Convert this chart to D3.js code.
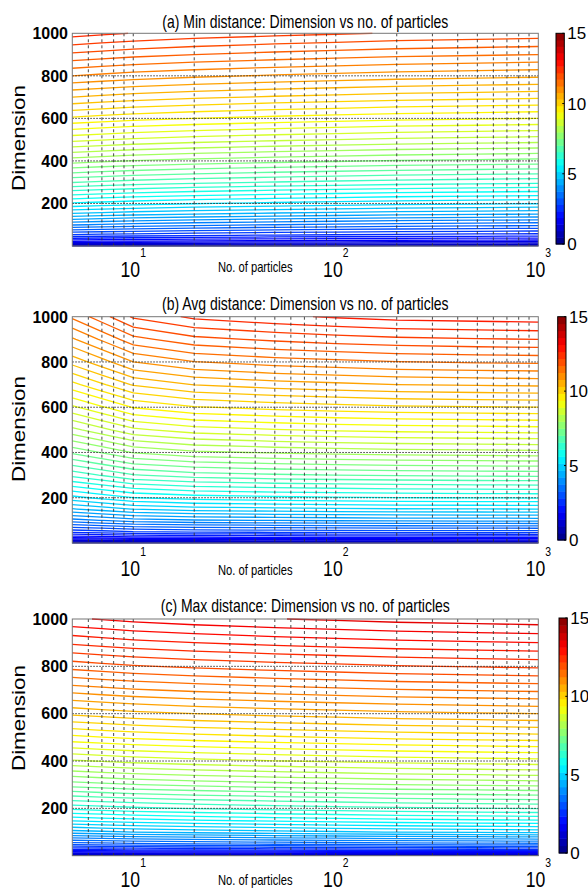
<!DOCTYPE html>
<html>
<head>
<meta charset="utf-8">
<script src="https://cdn.jsdelivr.net/npm/d3@7"></script>
<style>
  body { margin: 0; background: #fff; }
  text { font-family: "Liberation Sans", Arial, sans-serif; fill: #000; }
</style>
</head>
<body>
<svg width="588" height="890"></svg>
<script>
const svg = d3.select("svg");

// grid the distances were read on
const particles = [5, 7, 10, 20, 50, 100, 200, 500, 1000];
const dims = [1, 2, 10, 25, 50, 100, 150, 200, 300, 400, 500, 600, 700, 800, 900, 1000];

// rows follow dims, columns follow particles
const minDist = [
    [0.20, 0.19, 0.18, 0.17, 0.16, 0.15, 0.14, 0.13, 0.12],
    [0.53, 0.53, 0.52, 0.50, 0.49, 0.49, 0.48, 0.47, 0.47],
    [1.19, 1.17, 1.16, 1.13, 1.10, 1.09, 1.07, 1.06, 1.05],
    [1.89, 1.86, 1.83, 1.78, 1.74, 1.72, 1.69, 1.67, 1.66],
    [2.67, 2.63, 2.59, 2.53, 2.47, 2.44, 2.40, 2.37, 2.35],
    [3.78, 3.72, 3.66, 3.58, 3.50, 3.45, 3.40, 3.36, 3.33],
    [4.70, 4.64, 4.58, 4.50, 4.42, 4.37, 4.32, 4.28, 4.25],
    [5.47, 5.41, 5.35, 5.27, 5.19, 5.14, 5.09, 5.05, 5.02],
    [6.77, 6.71, 6.65, 6.57, 6.49, 6.44, 6.39, 6.35, 6.32],
    [7.86, 7.80, 7.74, 7.66, 7.58, 7.53, 7.48, 7.44, 7.41],
    [8.83, 8.77, 8.71, 8.63, 8.55, 8.50, 8.45, 8.41, 8.38],
    [9.70, 9.64, 9.58, 9.50, 9.42, 9.37, 9.32, 9.28, 9.25],
    [10.50, 10.44, 10.38, 10.30, 10.22, 10.17, 10.12, 10.08, 10.05],
    [11.25, 11.19, 11.13, 11.05, 10.97, 10.92, 10.87, 10.83, 10.80],
    [11.95, 11.89, 11.83, 11.75, 11.67, 11.62, 11.57, 11.53, 11.50],
    [12.61, 12.55, 12.49, 12.41, 12.33, 12.28, 12.23, 12.19, 12.16]
];

const avgDist = [
    [0.20, 0.21, 0.22, 0.23, 0.23, 0.24, 0.24, 0.24, 0.24],
    [0.52, 0.53, 0.55, 0.56, 0.57, 0.57, 0.58, 0.58, 0.58],
    [1.15, 1.19, 1.23, 1.26, 1.27, 1.28, 1.28, 1.29, 1.29],
    [1.83, 1.88, 1.94, 1.98, 2.01, 2.02, 2.03, 2.04, 2.04],
    [2.59, 2.66, 2.75, 2.81, 2.84, 2.86, 2.88, 2.88, 2.89],
    [3.65, 3.76, 3.88, 3.97, 4.01, 4.04, 4.06, 4.07, 4.08],
    [4.48, 4.61, 4.76, 4.87, 4.92, 4.95, 4.98, 4.99, 5.00],
    [5.16, 5.32, 5.49, 5.61, 5.68, 5.71, 5.74, 5.76, 5.77],
    [6.33, 6.52, 6.73, 6.88, 6.96, 7.00, 7.03, 7.06, 7.07],
    [7.30, 7.52, 7.77, 7.94, 8.03, 8.08, 8.12, 8.14, 8.16],
    [8.17, 8.42, 8.69, 8.88, 8.98, 9.04, 9.08, 9.11, 9.13],
    [8.95, 9.22, 9.52, 9.73, 9.84, 9.90, 9.95, 9.98, 10.00],
    [9.67, 9.96, 10.28, 10.51, 10.63, 10.69, 10.75, 10.78, 10.80],
    [10.34, 10.65, 11.00, 11.24, 11.37, 11.43, 11.49, 11.53, 11.55],
    [10.96, 11.29, 11.66, 11.92, 12.05, 12.13, 12.19, 12.23, 12.25],
    [11.55, 11.90, 12.29, 12.56, 12.70, 12.78, 12.85, 12.88, 12.91]
];

const maxDist = [
    [0.22, 0.23, 0.23, 0.24, 0.24, 0.24, 0.24, 0.24, 0.24],
    [0.63, 0.63, 0.64, 0.66, 0.67, 0.67, 0.68, 0.69, 0.69],
    [1.39, 1.41, 1.42, 1.45, 1.48, 1.49, 1.51, 1.52, 1.53],
    [2.19, 2.22, 2.25, 2.30, 2.34, 2.36, 2.39, 2.41, 2.42],
    [3.11, 3.15, 3.19, 3.25, 3.31, 3.34, 3.38, 3.41, 3.43],
    [4.38, 4.44, 4.50, 4.58, 4.66, 4.71, 4.76, 4.80, 4.83],
    [5.30, 5.36, 5.42, 5.50, 5.58, 5.63, 5.68, 5.72, 5.75],
    [6.07, 6.13, 6.19, 6.27, 6.35, 6.40, 6.45, 6.49, 6.52],
    [7.37, 7.43, 7.49, 7.57, 7.65, 7.70, 7.75, 7.79, 7.82],
    [8.46, 8.52, 8.58, 8.66, 8.74, 8.79, 8.84, 8.88, 8.91],
    [9.43, 9.49, 9.55, 9.63, 9.71, 9.76, 9.81, 9.85, 9.88],
    [10.30, 10.36, 10.42, 10.50, 10.58, 10.63, 10.68, 10.72, 10.75],
    [11.10, 11.16, 11.22, 11.30, 11.38, 11.43, 11.48, 11.52, 11.55],
    [11.85, 11.91, 11.97, 12.05, 12.13, 12.18, 12.23, 12.27, 12.30],
    [12.55, 12.61, 12.67, 12.75, 12.83, 12.88, 12.93, 12.97, 13.00],
    [13.21, 13.27, 13.33, 13.41, 13.49, 13.54, 13.59, 13.63, 13.66]
];

const levels = d3.range(0.25, 15, 0.25);
const xTicks = [10, 100, 1000];
const yTicks = [200, 400, 600, 800, 1000];
const yGrid = [200, 400, 600, 800];
const cbTicks = [0, 5, 10, 15];
const titles = [
    "(a) Min distance: Dimension vs no. of particles",
    "(b) Avg distance: Dimension vs no. of particles",
    "(c) Max distance: Dimension vs no. of particles"
];

// where each of the three axes sits on the page
const panels = [
    {values: minDist, top: 33.3, bottom: 246, cbX: 556, cbTop: 33.3, cbBottom: 244,
     titleY: 27.5, tickY: 277, labelY: 272, dimY: 138},
    {values: avgDist, top: 316.7, bottom: 543, cbX: 557.7, cbTop: 316.7, cbBottom: 540,
     titleY: 310, tickY: 576, labelY: 575, dimY: 429},
    {values: maxDist, top: 619, bottom: 855.7, cbX: 559, cbTop: 618, cbBottom: 853,
     titleY: 612, tickY: 887, labelY: 885, dimY: 718}
];
const left = 72.3, right = 538.3, cbWidth = 8.3;

// matlab jet colormap
function jet(t) {
    const c = v => Math.round(255 * Math.max(0, Math.min(1, v)));
    return `rgb(${c(1.5 - Math.abs(4 * t - 3))},${c(1.5 - Math.abs(4 * t - 2))},${c(1.5 - Math.abs(4 * t - 1))})`;
}

const line = d3.line();

panels.forEach(function(p, k) {
    const g = svg.append("g");

    const x = d3.scaleLog().domain([5, 1000]).range([left, right]);
    const y = d3.scaleLinear().domain([0, 1000]).range([p.bottom, p.top]);

    // grid index -> page position
    const gx = d3.scaleLinear().domain(d3.range(particles.length)).range(particles.map(x));
    const gy = d3.scaleLinear().domain(d3.range(dims.length)).range(dims.map(y));

    const n = particles.length, m = dims.length;
    const contours = d3.contours().size([n, m]).thresholds(levels)(p.values.flat());

    const lines = g.append("g").attr("fill", "none").attr("stroke-width", 1.3);

    contours.forEach(function(c) {
        const color = jet(c.value / 15);
        c.coordinates.forEach(function(poly) {
            poly.forEach(function(ring) {
                const pts = ring.slice(0, ring.length - 1);
                const onBorder = pt => pt[0] <= 0 || pt[0] >= n || pt[1] <= 0 || pt[1] >= m;
                const start = pts.findIndex(onBorder);
                const toPage = pt => [gx(pt[0] - 0.5), gy(pt[1] - 0.5)];
                if (start < 0) {
                    lines.append("path")
                        .attr("d", line(pts.map(toPage)) + "Z")
                        .attr("stroke", color);
                    return;
                }
                const rot = pts.slice(start).concat(pts.slice(0, start));
                let seg = [];
                rot.concat([rot[0]]).forEach(function(pt) {
                    if (onBorder(pt)) {
                        if (seg.length > 1) {
                            lines.append("path").attr("d", line(seg)).attr("stroke", color);
                        }
                        seg = [];
                    } else {
                        seg.push(toPage(pt));
                    }
                });
            });
        });
    });

    // dotted grid
    g.selectAll(".vgrid")
        .data(x.ticks().filter(v => v > 5 && v < 1000))
        .enter()
        .append("line")
        .attr("x1", d => x(d)).attr("x2", d => x(d))
        .attr("y1", p.top).attr("y2", p.bottom)
        .attr("stroke", "#333")
        .attr("stroke-width", 0.9)
        .attr("stroke-dasharray", "3,3");

    g.selectAll(".hgrid")
        .data(yGrid)
        .enter()
        .append("line")
        .attr("x1", left).attr("x2", right)
        .attr("y1", d => y(d)).attr("y2", d => y(d))
        .attr("stroke", "#222")
        .attr("stroke-width", 0.9)
        .attr("stroke-dasharray", "1.5,1.5");

    g.append("rect")
        .attr("x", left).attr("y", p.top)
        .attr("width", right - left).attr("height", p.bottom - p.top)
        .attr("fill", "none")
        .attr("stroke", "#777");

    // x tick labels 10^k
    xTicks.forEach(function(v) {
        const t = g.append("text")
            .attr("transform", `translate(${x(v)},${p.tickY}) scale(0.8,1)`)
            .attr("text-anchor", "middle")
            .style("font-size", "22px");
        t.append("tspan").text("10");
        t.append("tspan").attr("dy", -20).style("font-size", "13px").text(Math.round(Math.log10(v)));
    });

    g.selectAll(".ytick")
        .data(yTicks)
        .enter()
        .append("text")
        .attr("x", 68)
        .attr("y", d => y(d) + 5.8)
        .attr("text-anchor", "end")
        .style("font-size", "16px")
        .style("font-weight", "bold")
        .text(d => d);

    g.append("text")
        .attr("transform", `translate(${(left + right) / 2},${p.titleY}) scale(0.8,1)`)
        .attr("text-anchor", "middle")
        .style("font-size", "17.5px")
        .text(titles[k]);

    g.append("text")
        .attr("transform", `translate(218,${p.labelY}) scale(0.8,1)`)
        .style("font-size", "14px")
        .text("No. of particles");

    g.append("text")
        .attr("transform", `translate(25,${p.dimY}) scale(0.8,1) rotate(-90)`)
        .attr("text-anchor", "middle")
        .style("font-size", "22.5px")
        .text("Dimension");

    // colorbar
    const cb = d3.scaleLinear().domain([0, 15]).range([p.cbBottom, p.cbTop]);
    const bands = d3.range(32);
    g.selectAll(".band")
        .data(bands)
        .enter()
        .append("rect")
        .attr("x", p.cbX)
        .attr("width", cbWidth)
        .attr("y", d => cb((d + 1) * 15 / 32))
        .attr("height", cb(0) - cb(15 / 32) + 0.5)
        .attr("fill", d => jet((d + 0.5) / 32));

    g.append("rect")
        .attr("x", p.cbX).attr("y", p.cbTop)
        .attr("width", cbWidth).attr("height", p.cbBottom - p.cbTop)
        .attr("fill", "none")
        .attr("stroke", "#000");

    g.selectAll(".cbtick")
        .data(cbTicks)
        .enter()
        .append("line")
        .attr("x1", p.cbX + cbWidth - 2).attr("x2", p.cbX + cbWidth)
        .attr("y1", d => cb(d)).attr("y2", d => cb(d))
        .attr("stroke", "#000");

    g.selectAll(".cblabel")
        .data(cbTicks)
        .enter()
        .append("text")
        .attr("x", p.cbX + cbWidth + 3)
        .attr("y", d => cb(d) + 6)
        .style("font-size", "17px")
        .text(d => d);
});
</script>
</body>
</html>
